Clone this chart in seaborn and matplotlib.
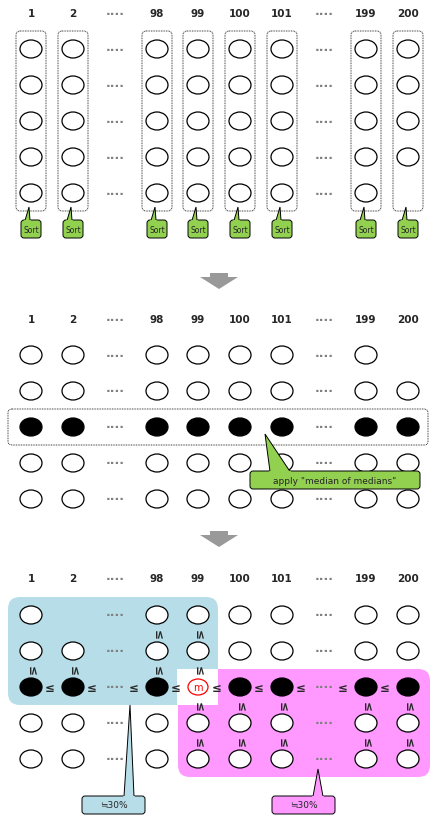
import numpy as np
import matplotlib.pyplot as plt
import seaborn as sns
from matplotlib.patches import Ellipse, FancyBboxPatch, Polygon

sns.set_style("white")
plt.rcParams['font.family'] = ['DejaVu Sans']

col_labels = ['1', '2', '', '98', '99', '100', '101', '', '199', '200']
n_rows = 5
# (column label, row) cells that are empty
missing_p1 = [('200', 4)]
missing_p2 = [('200', 0)]
missing_p3 = [('2', 0)]
sort_cols = ['1', '2', '98', '99', '100', '101', '199', '200']
callout_median = 'apply "median of medians"'
callout_pct = '≒30%'

col_x = [31, 73, 115, 157, 198, 240, 282, 324, 366, 408]
EW, EH = 22, 18

fig = plt.figure(figsize=(4.39, 8.29), dpi=100)
ax = fig.add_axes([0, 0, 1, 1])
ax.set_xlim(0, 439)
ax.set_ylim(829, 0)
ax.axis('off')


def header(y):
    for x, lab in zip(col_x, col_labels):
        if lab:
            ax.text(x, y, lab, ha='center', va='center', fontsize=7.5, fontweight='bold')
        else:
            ax.text(x, y, '····', ha='center', va='center', fontsize=9, color='gray', fontweight='bold')


def dots(y):
    ax.text(115, y, '····', ha='center', va='center', fontsize=9, color='gray', fontweight='bold')
    ax.text(324, y, '····', ha='center', va='center', fontsize=9, color='gray', fontweight='bold')


def circle(x, y, fill='white', z=3):
    ax.add_patch(Ellipse((x, y), EW, EH, facecolor=fill, edgecolor='black', lw=0.9, zorder=z))


def callout(x0, y0, w, h, color, text, tip, base, fs=6.5):
    ax.add_patch(FancyBboxPatch((x0, y0), w, h, boxstyle='round,pad=0,rounding_size=3',
                                facecolor=color, edgecolor='black', lw=0.7, zorder=6))
    ax.add_patch(Polygon([base[0], tip, base[1]], closed=False, facecolor=color,
                         edgecolor='black', lw=0.7, zorder=6))
    ax.plot([base[0][0], base[1][0]], [base[0][1] + 0.6, base[1][1] + 0.6], color=color, lw=1.6, zorder=7)
    ax.text(x0 + w / 2, y0 + h / 2, text, ha='center', va='center', fontsize=fs, zorder=8)


def arrow(y):
    ax.add_patch(Polygon([(200, y - 6), (238, y - 6), (219, y + 6)], facecolor='#999999',
                         edgecolor='none'))
    ax.add_patch(Polygon([(210, y - 10), (228, y - 10), (228, y - 5), (210, y - 5)],
                         facecolor='#999999', edgecolor='none'))


# ---- panel 1
header(14)
rows1 = [50, 86, 122, 158, 194]
for x, lab in zip(col_x, col_labels):
    if not lab:
        continue
    ax.add_patch(FancyBboxPatch((x - 15, 32), 30, 180, boxstyle='round,pad=0,rounding_size=4',
                                facecolor='none', edgecolor='black', lw=0.6, ls=(0, (1, 1))))
    for r, y in enumerate(rows1):
        if (lab, r) not in missing_p1:
            circle(x, y)
for y in rows1:
    dots(y)
for x, lab in zip(col_x, col_labels):
    if lab in sort_cols:
        callout(x - 10, 221, 20, 18, '#92d050', 'Sort', (x - 2, 208), [(x - 6, 221.5), (x - 1, 221.5)], fs=5.5)
arrow(284)

# ---- panel 2
header(320)
rows2 = [356, 392, 428, 464, 500]
ax.add_patch(FancyBboxPatch((8, 410), 420, 36, boxstyle='round,pad=0,rounding_size=4',
                            facecolor='none', edgecolor='black', lw=0.6, ls=(0, (1, 1))))
for x, lab in zip(col_x, col_labels):
    if not lab:
        continue
    for r, y in enumerate(rows2):
        if (lab, r) not in missing_p2:
            circle(x, y, 'black' if r == 2 else 'white')
for y in rows2:
    dots(y)
callout(250, 472, 170, 18, '#92d050', callout_median, (265, 435), [(270, 472.5), (290, 472.5)])
arrow(542)

# ---- panel 3
header(579)
rows3 = [616, 652, 688, 724, 760]
ax.add_patch(FancyBboxPatch((8, 598), 210, 108, boxstyle='round,pad=0,rounding_size=12',
                            facecolor='#b7dde8', edgecolor='none', zorder=1))
ax.add_patch(FancyBboxPatch((178, 670), 252, 108, boxstyle='round,pad=0,rounding_size=12',
                            facecolor='#ff99ff', edgecolor='none', zorder=1))
ax.add_patch(plt.Rectangle((177, 670), 41, 36, facecolor='white', edgecolor='none', zorder=2))
for x, lab in zip(col_x, col_labels):
    if not lab:
        continue
    for r, y in enumerate(rows3):
        if (lab, r) in missing_p3:
            continue
        if lab == '99' and r == 2:
            ax.add_patch(Ellipse((x, y), 20, 16, facecolor='white', edgecolor='red', lw=0.9, zorder=3))
            ax.text(x, y, 'm', color='red', ha='center', va='center', fontsize=7, zorder=4)
        else:
            circle(x, y, 'black' if r == 2 else 'white')
for y in rows3:
    dots(y)
# vertical order signs
up_cells = {'1': [1], '2': [1], '98': [0, 1], '99': [0, 1]}
down_cells = {'99': [2], '100': [2], '101': [2], '199': [2], '200': [2]}


def vsign(x, y):
    ax.text(x, y, '≤', rotation=-90, ha='center', va='center',
            fontsize=8.5, fontweight='bold', zorder=5)


for lab, rs in up_cells.items():
    x = col_x[col_labels.index(lab)]
    for r in rs:
        vsign(x, (rows3[r] + rows3[r + 1]) / 2 + 1)
for lab, rs in down_cells.items():
    x = col_x[col_labels.index(lab)]
    for r in rs:
        for rr in (r, r + 1):
            vsign(x, (rows3[rr] + rows3[rr + 1]) / 2 + 1)
for i in range(len(col_x) - 1):
    ax.text(col_x[i] + 19, 688, '≤', ha='center', va='center', fontsize=8.5, fontweight='bold', zorder=5)
callout(82, 797, 63, 18, '#b7dde8', callout_pct, (130, 706), [(124, 797.5), (134, 797.5)])
callout(272, 797, 63, 18, '#ff99ff', callout_pct, (318, 770), [(313, 797.5), (323, 797.5)])

fig.savefig('out.png', dpi=100)
